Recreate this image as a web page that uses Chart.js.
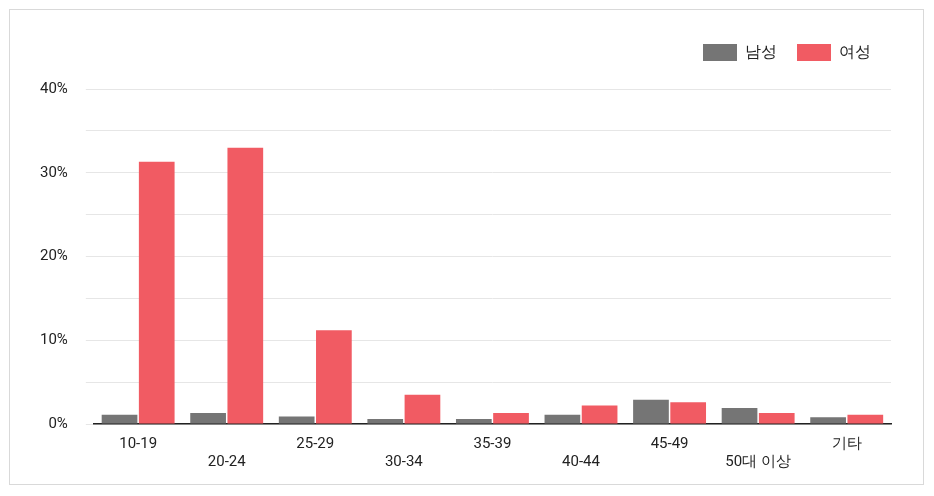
<!DOCTYPE html>
<html>
<head>
<meta charset="utf-8">
<script src="https://cdn.jsdelivr.net/npm/chart.js@4"></script>
<style>
  body { margin: 0; background: #fff; }
  .box { position: absolute; left: 9px; top: 9px; width: 915px; height: 476px; border: 1px solid #d9d9d9; box-sizing: border-box; }
</style>
</head>
<body>
<div class="box"><canvas id="c" width="913" height="474"></canvas></div>
<script>
const categories = ['10-19', '20-24', '25-29', '30-34', '35-39', '40-44', '45-49', '50대 이상', '기타'];
const male = [1.1, 1.3, 0.9, 0.6, 0.6, 1.1, 2.9, 1.9, 0.8];
const female = [31.3, 33.0, 11.2, 3.5, 1.3, 2.2, 2.6, 1.3, 1.1];

// alternate labels up/down like the original
const labels = categories.map((c, i) => i % 2 ? ['', c] : [c]);

// extra room under the legend
const legendSpace = {
  id: 'legendSpace',
  beforeInit(chart) {
    const fit = chart.legend.fit;
    chart.legend.fit = function () {
      fit.bind(chart.legend)();
      this.height += 18;
    };
  }
};

new Chart(document.getElementById('c'), {
  type: 'bar',
  data: {
    labels: labels,
    datasets: [
      { label: '남성', data: male, backgroundColor: '#757575', barPercentage: 0.96, categoryPercentage: 0.84 },
      { label: '여성', data: female, backgroundColor: '#f15b63', barPercentage: 0.96, categoryPercentage: 0.84 }
    ]
  },
  options: {
    responsive: false,
    animation: false,
    layout: { padding: { left: 12, right: 32, top: 14, bottom: 10 } },
    plugins: {
      legend: {
        align: 'end',
        labels: { boxWidth: 34, boxHeight: 17, font: { family: 'Roboto', size: 16 }, color: '#222', padding: 20 }
      },
      tooltip: { enabled: false }
    },
    scales: {
      x: {
        grid: { display: false },
        border: { color: '#222', width: 1.5 },
        ticks: { font: { family: 'Roboto', size: 15 }, color: '#222', maxRotation: 0, autoSkip: false }
      },
      y: {
        min: 0, max: 40,
        border: { display: false },
        grid: { color: '#e6e6e6' },
        ticks: {
          stepSize: 5, padding: 18,
          font: { family: 'Roboto', size: 15 }, color: '#222',
          callback: v => v % 10 === 0 ? v + '%' : ''
        }
      }
    }
  },
  plugins: [legendSpace]
});
</script>
</body>
</html>
